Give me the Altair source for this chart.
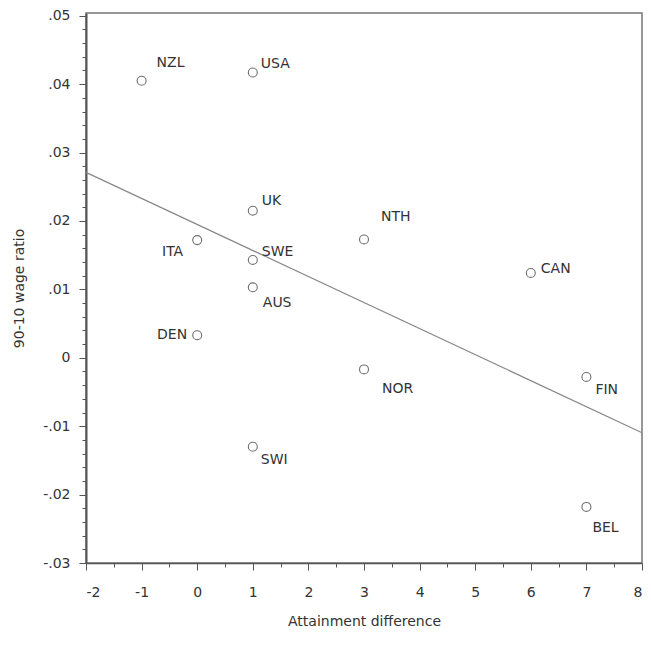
import altair as alt
import numpy as np
import pandas as pd

countries = ["NZL", "USA", "UK", "ITA", "SWE", "AUS", "DEN", "NTH", "CAN", "NOR", "FIN", "SWI", "BEL"]
attainment = [-1, 1, 1, 0, 1, 1, 0, 3, 6, 3, 7, 1, 7]
wage_ratio = [0.0405, 0.0417, 0.0215, 0.0172, 0.0143, 0.0103, 0.0033, 0.0173, 0.0124, -0.0017, -0.0028, -0.0130, -0.0218]

df = pd.DataFrame({"country": countries, "x": attainment, "y": wage_ratio})

# label placement (pixel offsets from the marker), styling only
label_style = {
    "NZL": (15, -18, "left"),
    "USA": (8, -9, "left"),
    "UK": (9, -10, "left"),
    "SWE": (9, -8, "left"),
    "CAN": (10, -4, "left"),
    "NTH": (17, -22, "left"),
    "ITA": (-14, 12, "right"),
    "DEN": (-10, 0, "right"),
    "AUS": (10, 16, "left"),
    "NOR": (18, 20, "left"),
    "FIN": (9, 13, "left"),
    "SWI": (8, 13, "left"),
    "BEL": (6, 21, "left"),
}

FONT = "DejaVu Sans"
x_major = list(range(-2, 9))
x_minor = [v + 0.5 for v in range(-2, 8)]
y_major = [round(v, 2) for v in np.arange(-0.03, 0.0501, 0.01)]
y_minor = [round(v, 3) for v in np.arange(-0.03, 0.0501, 0.002) if abs(round(v * 100) - v * 100) > 0.01]

x_scale = alt.Scale(domain=[-2, 8], nice=False, zero=False)
y_scale = alt.Scale(domain=[-0.03, 0.0504], nice=False, zero=False)

common = dict(
    grid=False,
    domainColor="#555",
    tickColor="#555",
    labelFont=FONT,
    labelFontSize=14,
    labelColor="#333",
    titleFont=FONT,
    titleFontSize=14,
    titleFontWeight="normal",
    titleColor="#333",
)

x_axis = alt.Axis(
    title="Attainment difference",
    orient="bottom",
    values=x_major,
    labelExpr="replace(format(datum.value, 'd'), '\u2212', '-')",
    tickSize=7,
    domainWidth=1.5,
    labelPadding=15,
    titlePadding=15,
    **common,
)
y_axis = alt.Axis(
    title="90-10 wage ratio",
    orient="left",
    values=y_major,
    labelExpr="abs(datum.value) < 1e-9 ? '0' : replace(replace(format(datum.value, '.2f'), '0.', '.'), '\u2212', '-')",
    tickSize=7,
    domainWidth=2,
    labelPadding=9,
    titlePadding=16,
    **common,
)
x_axis_minor = alt.Axis(
    title=None, orient="bottom", values=x_minor, labels=False, domain=False,
    tickSize=4, tickColor="#555", grid=False,
)
y_axis_minor = alt.Axis(
    title=None, orient="left", values=y_minor, labels=False, domain=False,
    tickSize=4, tickColor="#555", grid=False,
)

base = alt.Chart(df)

points = base.mark_point(
    shape="circle", filled=False, size=80, color="#333", strokeWidth=1.1
).encode(
    x=alt.X("x:Q", scale=x_scale, axis=x_axis),
    y=alt.Y("y:Q", scale=y_scale, axis=y_axis),
)

minor = base.mark_point(opacity=0).encode(
    x=alt.X("x:Q", scale=x_scale, axis=x_axis_minor),
    y=alt.Y("y:Q", scale=y_scale, axis=y_axis_minor),
)

fit = base.transform_regression("x", "y", extent=[-2, 8]).mark_line(
    color="#888", strokeWidth=1.2
).encode(x=alt.X("x:Q", scale=x_scale, axis=None), y=alt.Y("y:Q", scale=y_scale, axis=None))

label_layers = []
groups = {}
for c, st in label_style.items():
    groups.setdefault(st, []).append(c)
for (dx, dy, align), names in groups.items():
    label_layers.append(
        base.transform_filter(alt.FieldOneOfPredicate(field="country", oneOf=names))
        .mark_text(dx=dx, dy=dy, align=align, baseline="middle", font=FONT, fontSize=14, color="#333")
        .encode(x=alt.X("x:Q", scale=x_scale, axis=None), y=alt.Y("y:Q", scale=y_scale, axis=None), text="country:N")
    )

chart = alt.layer(points, minor, fit, *label_layers).resolve_axis(
    x="independent", y="independent"
).properties(
    width=556, height=550,
    autosize=alt.AutoSizeParams(type="none"),
    padding={"left": 78, "top": 5, "right": 1, "bottom": 68},
).configure_view(stroke="#777", strokeWidth=1.5)

chart.save("out.html", embed_options={"renderer": "svg", "actions": False})
